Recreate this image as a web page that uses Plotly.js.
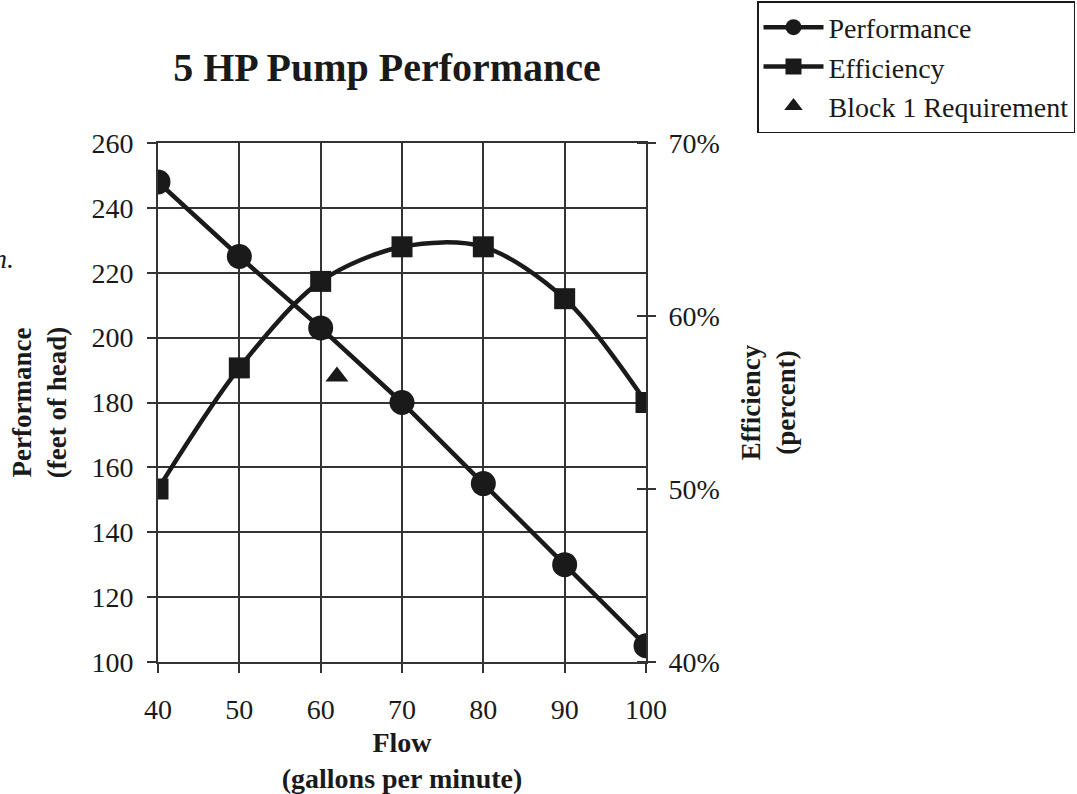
<!DOCTYPE html>
<html>
<head>
<meta charset="utf-8">
<script src="https://cdn.plot.ly/plotly-3.0.1.min.js"></script>
<style>html,body{margin:0;padding:0;background:#fff;}#chart{width:1077px;height:794px;}</style>
</head>
<body>
<div id="chart"></div>
<script>
var flow = [40, 50, 60, 70, 80, 90, 100];
var performance = [248, 225, 203, 180, 155, 130, 105];
var efficiency = [0.50, 0.57, 0.62, 0.64, 0.64, 0.61, 0.55];
var reqFlow = [62];
var reqHead = [188];
var effTicks = [0.4, 0.5, 0.6, 0.7];

var F = 'Liberation Serif, Times New Roman, serif';
var INK = '#1a1a1a';
var GRID = '#333333';
var L = 158, R = 646, T = 143, B = 662;
function px(x){ return (x - L) / (R - L); }
function py(y){ return (B - y) / (B - T); }

var traces = [
  {x: flow, y: performance, name: 'Performance', mode: 'lines+markers', type: 'scatter',
   line: {color: INK, width: 4.5}, marker: {symbol: 'circle', size: 25, color: INK}},
  {x: flow, y: efficiency, name: 'Efficiency', mode: 'lines+markers', type: 'scatter', yaxis: 'y2',
   line: {color: INK, width: 4.5, shape: 'spline', smoothing: 0.9}, marker: {symbol: 'square', size: 21, color: INK}},
  {x: reqFlow, y: reqHead, name: 'Block 1 Requirement', mode: 'markers', type: 'scatter',
   marker: {symbol: 'triangle-up', size: 20, color: INK}}
];

var shapes = effTicks.map(function(v){
  return {type: 'line', xref: 'paper', yref: 'y2', x0: 1 - 9/(R - L), x1: 1, y0: v, y1: v,
          line: {color: GRID, width: 2}};
});

var layout = {
  width: 1077, height: 794,
  margin: {l: L, r: 1077 - R, t: T, b: 794 - B, autoexpand: false},
  paper_bgcolor: '#fff', plot_bgcolor: '#fff',
  font: {family: F, size: 28, color: INK},
  title: {text: '<b>5 HP Pump Performance</b>', font: {family: F, size: 40, color: INK},
          x: px(387), xref: 'paper', xanchor: 'center', y: 1 - 67/794, yanchor: 'middle'},
  xaxis: {range: [40, 100], dtick: 10, tick0: 40, showgrid: true, gridcolor: GRID, gridwidth: 2,
          zeroline: false, showline: true, mirror: true, linecolor: GRID, linewidth: 2,
          ticks: 'outside', ticklen: 9, tickcolor: GRID, tickwidth: 2, ticklabelstandoff: 12,
          tickfont: {family: F, size: 28}, automargin: false,
          title: {text: '<b>Flow<br>(gallons per minute)</b>', font: {family: F, size: 28}, standoff: 24}},
  yaxis: {range: [100, 260], dtick: 20, tick0: 100, showgrid: true, gridcolor: GRID, gridwidth: 2,
          zeroline: false, showline: true, mirror: true, linecolor: GRID, linewidth: 2,
          ticks: 'outside', ticklen: 9, tickcolor: GRID, tickwidth: 2, ticklabelstandoff: 8,
          tickfont: {family: F, size: 28}, automargin: false,
          title: {text: '<b>Performance<br>(feet of head)</b>', font: {family: F, size: 27}, standoff: 17}},
  yaxis2: {range: [0.4, 0.7], dtick: 0.1, tick0: 0.4, tickformat: '.0%', overlaying: 'y', side: 'right',
           showgrid: false, zeroline: false, showline: false, ticks: 'outside', ticklen: 9,
           tickcolor: GRID, tickwidth: 2, ticklabelstandoff: 7, tickfont: {family: F, size: 28}, automargin: false,
           title: {text: '<b>Efficiency<br>(percent)</b>', font: {family: F, size: 27}, standoff: 22}},
  shapes: shapes,
  showlegend: true,
  legend: {x: px(757), y: py(1), xanchor: 'left', yanchor: 'top',
           bordercolor: INK, borderwidth: 1.5, bgcolor: '#fff',
           font: {family: F, size: 28, color: INK}, itemwidth: 60},
  annotations: [
    {text: '<i>h.</i>', xref: 'paper', yref: 'paper', x: px(16), y: py(258), xanchor: 'right', yanchor: 'middle',
     showarrow: false, font: {family: F, size: 28, color: INK}}
  ]
};

Plotly.newPlot('chart', traces, layout, {displayModeBar: false, staticPlot: true});
</script>
</body>
</html>
